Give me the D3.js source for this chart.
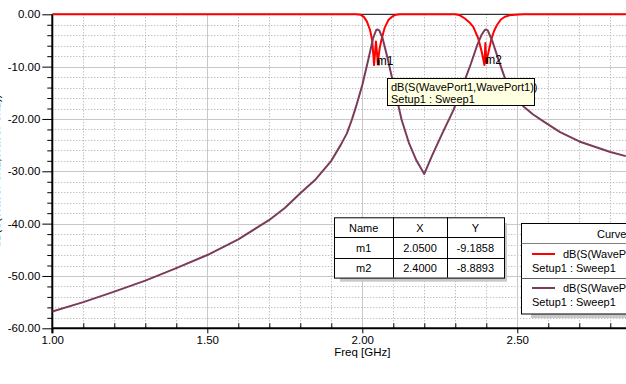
<!DOCTYPE html>
<html><head><meta charset="utf-8">
<script src="https://cdn.jsdelivr.net/npm/d3@7"></script>
<style>
html,body{margin:0;padding:0;background:#fff;}
svg{display:block;}
text{font-family:"Liberation Sans",Arial,sans-serif;fill:#000;}
</style></head>
<body>
<svg id="c" width="626" height="384"></svg>
<script>
// ---- data ----
const xTicks = [1.0, 1.5, 2.0, 2.5];
const yTicks = [-60, -50, -40, -30, -20, -10, 0];
const xLabel = "Freq [GHz]";

const freqS11 = [1.00, 1.98, 1.995, 2.005, 2.015, 2.025, 2.032, 2.038, 2.044, 2.05, 2.056, 2.062, 2.072, 2.084, 2.095, 2.105, 2.12,
                 2.30, 2.315, 2.331, 2.345, 2.358, 2.374, 2.385, 2.394, 2.397, 2.40, 2.406, 2.417, 2.425, 2.434, 2.447, 2.46, 2.475, 2.493, 2.52, 2.85];
const s11 = [0, 0, -0.1, -0.5, -1.4, -3.0, -5.0, -9.7, -5.2, -9.1858, -6.5, -4.8, -2.6, -1.1, -0.5, -0.15, 0,
             0, -0.2, -0.8, -1.5, -2.4, -4.6, -7.1, -9.7, -5.5, -8.8893, -7.5, -4.6, -3.2, -2.1, -1.0, -0.46, -0.2, -0.08, 0, 0];

const freqS21 = [1.00, 1.10, 1.20, 1.30, 1.40, 1.50, 1.60, 1.70, 1.75, 1.80, 1.85, 1.90, 1.93, 1.95, 1.966, 1.98, 2.00, 2.02, 2.035, 2.045, 2.05, 2.055, 2.065, 2.08, 2.10, 2.127,
                 2.15, 2.175, 2.20, 2.225, 2.26, 2.294, 2.321, 2.35, 2.37, 2.385, 2.395, 2.40, 2.405, 2.42, 2.44, 2.466, 2.49, 2.52, 2.55, 2.583, 2.638, 2.70, 2.80, 2.85];
const s21 = [-56.8, -55.0, -53.0, -50.9, -48.5, -46.0, -43.0, -39.3, -37.0, -34.2, -31.5, -28.0, -25.0, -22.8, -20.2, -17.6, -13.5, -8.5, -4.5, -3.0, -2.9, -3.1, -4.5, -8.0, -13.2, -20.2,
             -24.5, -28.0, -30.5, -27.0, -22.5, -18.3, -14.1, -9.5, -6.0, -3.9, -3.0, -2.9, -3.1, -5.2, -8.8, -13.2, -15.6, -17.6, -19.1, -20.4, -22.5, -24.3, -26.3, -27.1];

const markerNames = ["m1", "m2"];
const markerX = [2.05, 2.40];
const markerY = [-9.1858, -8.8893];

const curveName = "dB(S(WavePort1,WavePort1))";
const sweepName = "Setup1 : Sweep1";

// ---- layout ----
const svg = d3.select("#c");
const L = 52.3, R = 625.8, T = 14.3, B = 328.3;
const x = d3.scaleLinear().domain([1.0, 2.85]).range([L, R]);
const y = d3.scaleLinear().domain([-60, 0]).range([B, T]);
const fmt = d => d.toFixed(2);
const font = "Liberation Sans";

// grid
const minorX = d3.range(11, 29).map(d => d / 10).filter(v => !xTicks.some(t => Math.abs(t - v) < 1e-9));
const minorY = d3.range(-58, 0, 2).filter(v => v % 10 !== 0);
const g = svg.append("g");
g.selectAll(".vx").data(minorX).join("line")
  .attr("x1", d => Math.round(x(d)) + 0.5).attr("x2", d => Math.round(x(d)) + 0.5)
  .attr("y1", T).attr("y2", B).attr("stroke", "#a8a8a8").attr("stroke-dasharray", "1,2");
g.selectAll(".hy").data(minorY).join("line")
  .attr("y1", d => Math.round(y(d)) + 0.5).attr("y2", d => Math.round(y(d)) + 0.5)
  .attr("x1", L).attr("x2", 626).attr("stroke", "#a8a8a8").attr("stroke-dasharray", "1,2");
g.selectAll(".vmx").data(xTicks.slice(1)).join("line")
  .attr("x1", d => Math.round(x(d)) + 0.5).attr("x2", d => Math.round(x(d)) + 0.5)
  .attr("y1", T).attr("y2", B).attr("stroke", "#c8c8c8");
g.selectAll(".hmy").data(yTicks.slice(1, -1)).join("line")
  .attr("y1", d => Math.round(y(d)) + 0.5).attr("y2", d => Math.round(y(d)) + 0.5)
  .attr("x1", L).attr("x2", 626).attr("stroke", "#c8c8c8");

// top border
svg.append("line").attr("x1", L).attr("x2", 626).attr("y1", T).attr("y2", T).attr("stroke", "#000").attr("stroke-width", 1);

// axes
const yAxisMinor = d3.axisLeft(y).tickValues(minorY).tickSize(5).tickFormat("");
svg.append("g").attr("transform", `translate(${L},0)`).call(yAxisMinor)
  .call(s => s.select(".domain").remove()).selectAll("line").attr("stroke", "#000");
const yAxis = d3.axisLeft(y).tickValues(yTicks).tickSize(10).tickPadding(2).tickFormat(fmt);
const ya = svg.append("g").attr("transform", `translate(${L},0)`).call(yAxis);
ya.select(".domain").remove();
ya.selectAll("text").attr("font-family", font).attr("font-size", 11.5).attr("fill", "#000");
svg.append("line").attr("x1", L).attr("x2", L).attr("y1", T).attr("y2", B + 5).attr("stroke", "#000").attr("stroke-width", 2);

const xAxisMinor = d3.axisBottom(x).tickValues(minorX).tickSize(-5).tickFormat("");
svg.append("g").attr("transform", `translate(0,${B})`).call(xAxisMinor)
  .call(s => s.select(".domain").remove()).selectAll("line").attr("stroke", "#000");
const xAxis = d3.axisBottom(x).tickValues(xTicks).tickSize(5).tickPadding(3).tickFormat(fmt);
const xa = svg.append("g").attr("transform", `translate(0,${B})`).call(xAxis);
xa.select(".domain").remove();
xa.selectAll("text").attr("font-family", font).attr("font-size", 11.5).attr("fill", "#000");
svg.append("line").attr("x1", L).attr("x2", 626).attr("y1", B).attr("y2", B).attr("stroke", "#000").attr("stroke-width", 2);

svg.append("text").attr("x", x(2.0)).attr("y", 356).attr("text-anchor", "middle")
  .attr("font-size", 11.5).text(xLabel);
// y-axis title sits mostly outside the window, as in the reference
svg.append("text").attr("transform", `translate(-0.5,171) rotate(-90)`).attr("text-anchor", "middle")
  .attr("font-size", 11.5).text(curveName);

// curves
svg.append("clipPath").attr("id", "clip").append("rect").attr("x", L).attr("y", T - 4).attr("width", 626 - L).attr("height", B - T + 4);
const line = d3.line().x(d => x(d[0])).y(d => y(d[1]));
const cg = svg.append("g").attr("clip-path", "url(#clip)");
cg.append("path").datum(freqS11.map((f, i) => [f, s11[i]])).attr("d", line)
  .attr("fill", "none").attr("stroke", "#ff0000").attr("stroke-width", 2).attr("stroke-linejoin", "round");
cg.append("path").datum(freqS21.map((f, i) => [f, s21[i]])).attr("d", line)
  .attr("fill", "none").attr("stroke", "#7b3b5a").attr("stroke-width", 2).attr("stroke-linejoin", "round");

// marker labels
markerNames.forEach((m, i) => {
  svg.append("rect").attr("x", x(markerX[i]) - 1).attr("y", y(markerY[i]) - 3).attr("width", 3).attr("height", 6).attr("fill", "#800000");
  svg.append("text").attr("x", x(markerX[i]) - 1).attr("y", y(markerY[i]) + 3).attr("font-size", 12).text(m);
});

// tooltip
const tt = svg.append("g");
tt.append("rect").attr("x", 387.5).attr("y", 78.5).attr("width", 147).attr("height", 27).attr("fill", "#ffffe1").attr("stroke", "#000");
tt.append("text").attr("x", 391).attr("y", 91).attr("font-size", 11).text(curveName);
tt.append("text").attr("x", 391).attr("y", 102.5).attr("font-size", 11).text(sweepName);

// marker table
const tx = [334, 393.3, 446.7, 504], ty = 217.3, rh = 20.1;
svg.append("rect").attr("x", 340).attr("y", 277.7).attr("width", 167).attr("height", 4).attr("fill", "#c8c8c8");
svg.append("rect").attr("x", 504).attr("y", 223).attr("width", 3).attr("height", 58).attr("fill", "#c8c8c8");
svg.append("rect").attr("x", tx[0]).attr("y", ty).attr("width", tx[3] - tx[0]).attr("height", rh * 3).attr("fill", "#fff");
const rows = [["Name", "X", "Y"]].concat(markerNames.map((m, i) => [m, markerX[i].toFixed(4), markerY[i].toFixed(4)]));
rows.forEach((r, ri) => {
  r.forEach((c, ci) => {
    svg.append("text").attr("x", (tx[ci] + tx[ci + 1]) / 2).attr("y", ty + rh * ri + 14.5)
      .attr("text-anchor", "middle").attr("font-size", 11).text(c);
  });
});
const tb = svg.append("g").attr("stroke", "#000").attr("fill", "none");
tb.append("rect").attr("x", tx[0] + 0.5).attr("y", ty + 0.5).attr("width", tx[3] - tx[0]).attr("height", rh * 3);
[1, 2].forEach(k => tb.append("line").attr("x1", Math.round(tx[k]) + 0.5).attr("x2", Math.round(tx[k]) + 0.5).attr("y1", ty).attr("y2", ty + rh * 3));
[1, 2].forEach(k => tb.append("line").attr("y1", Math.round(ty + rh * k) + 0.5).attr("y2", Math.round(ty + rh * k) + 0.5).attr("x1", tx[0]).attr("x2", tx[3]));

// legend
const lx = 521.5, ly = 223.5;
svg.append("rect").attr("x", 531).attr("y", 314).attr("width", 95).attr("height", 4).attr("fill", "#c8c8c8");
svg.append("rect").attr("x", lx).attr("y", ly).attr("width", 200).attr("height", 90.5).attr("fill", "#fff").attr("stroke", "#000");
svg.append("text").attr("x", 597).attr("y", 237.5).attr("font-size", 11).text("Curve Info");
svg.append("line").attr("x1", lx).attr("x2", 626).attr("y1", 243.5).attr("y2", 243.5).attr("stroke", "#808080");
svg.append("line").attr("x1", lx).attr("x2", 626).attr("y1", 278.5).attr("y2", 278.5).attr("stroke", "#606060");
const legColors = ["#ff0000", "#7b3b5a"];
legColors.forEach((c, i) => {
  const oy = 254 + i * 34;
  svg.append("line").attr("x1", 532).attr("x2", 555).attr("y1", oy).attr("y2", oy).attr("stroke", c).attr("stroke-width", 2);
  svg.append("text").attr("x", 563).attr("y", oy + 4).attr("font-size", 11).text(curveName);
  svg.append("text").attr("x", 532).attr("y", oy + 18).attr("font-size", 11).text(sweepName);
});
</script>
</body></html>
